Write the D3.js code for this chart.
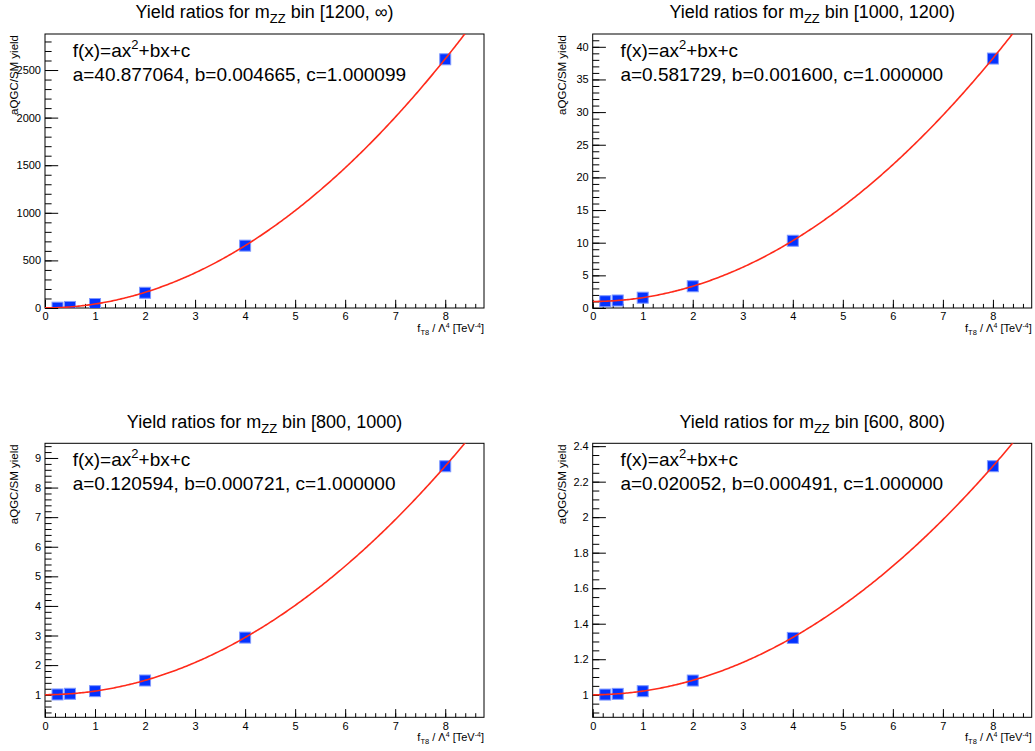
<!DOCTYPE html>
<html>
<head>
<meta charset="utf-8">
<script src="https://cdn.jsdelivr.net/npm/d3@7"></script>
<style>
  html, body { margin: 0; padding: 0; background: #fff; }
  svg { display: block; }
  text { font-family: "Liberation Sans", Arial, Helvetica, sans-serif; fill: #000; }
</style>
</head>
<body>
<svg id="chart" width="1035" height="751"></svg>
<script>
// ---------------- data ----------------
const binLabels = ["[1200, \u221e)", "[1000, 1200)", "[800, 1000)", "[600, 800)"];
const xValues = [0.25, 0.5, 1, 2, 4, 8];
const yields1200 = [3.6, 11.2, 41.9, 160, 655, 2613];
const yields1000 = [1.04, 1.15, 1.58, 3.33, 10.3, 38.2];
const yields800  = [1.008, 1.031, 1.12, 1.48, 2.93, 8.72];
const yields600  = [1.001, 1.005, 1.02, 1.08, 1.32, 2.287];
const fitA = [40.877064, 0.581729, 0.120594, 0.020052];
const fitB = [0.004665, 0.001600, 0.000721, 0.000491];
const fitC = [1.000099, 1.000000, 1.000000, 1.000000];
const fitAText = ["40.877064", "0.581729", "0.120594", "0.020052"];
const fitBText = ["0.004665", "0.001600", "0.000721", "0.000491"];
const fitCText = ["1.000099", "1.000000", "1.000000", "1.000000"];
const xDomain = [0, 8.775];
const yDomainMin = [0, 0, 0.236, 0.873];
const yDomainMax = [2878.5, 41.96, 9.496, 2.416];
const yMajorStep = [500, 5, 1, 0.2];
const yMinorStep = [100, 1, 0.2, 0.05];
const xMajorStep = 1, xMinorStep = 0.2;
const allYields = [yields1200, yields1000, yields800, yields600];

// ---------------- layout ----------------
const colLeft = [45, 592.7];
const rowTop = [34, 443.3];
const fw = 439, fh = 274;
const svg = d3.select("#chart");
const fmt = d3.format("~g");

function stepValues(min, max, step) {
  const out = [];
  const k0 = Math.ceil(min / step - 1e-9), k1 = Math.floor(max / step + 1e-9);
  for (let k = k0; k <= k1; k++) out.push(+(k * step).toFixed(6));
  return out;
}

for (let p = 0; p < 4; p++) {
  const left = colLeft[p % 2], top = rowTop[Math.floor(p / 2)];
  const g = svg.append("g").attr("transform", `translate(${left},${top})`);
  const x = d3.scaleLinear().domain(xDomain).range([0, fw]);
  const y = d3.scaleLinear().domain([yDomainMin[p], yDomainMax[p]]).range([fh, 0]);

  g.append("clipPath").attr("id", "clip" + p)
    .append("rect").attr("width", fw).attr("height", fh);

  const xMinor = g.append("g").attr("transform", `translate(0,${fh})`)
    .call(d3.axisBottom(x).tickValues(stepValues(xDomain[0], xDomain[1], xMinorStep))
      .tickSize(-4.1).tickFormat(""));
  const xMajor = g.append("g").attr("transform", `translate(0,${fh})`)
    .call(d3.axisBottom(x).tickValues(stepValues(xDomain[0], xDomain[1], xMajorStep))
      .tickSize(-8.2).tickPadding(4.6).tickFormat(fmt));
  const yMinor = g.append("g")
    .call(d3.axisLeft(y).tickValues(stepValues(yDomainMin[p], yDomainMax[p], yMinorStep[p]))
      .tickSize(-6.6).tickFormat(""));
  const yMajor = g.append("g")
    .call(d3.axisLeft(y).tickValues(stepValues(yDomainMin[p], yDomainMax[p], yMajorStep[p]))
      .tickSize(-13.2).tickPadding(4).tickFormat(fmt));
  [xMinor, xMajor, yMinor, yMajor].forEach(a => {
    a.select(".domain").remove();
    a.selectAll("line").attr("stroke", "#000").attr("stroke-width", 1);
    a.selectAll("text").attr("font-size", 11)
      .attr("font-family", '"Liberation Sans", Arial, Helvetica, sans-serif').attr("fill", "#000");
  });

  g.append("rect").attr("width", fw).attr("height", fh)
    .attr("fill", "none").attr("stroke", "#000").attr("stroke-width", 1);

  const pts = xValues.map((xv, i) => [xv, allYields[p][i]]);
  g.append("g").attr("clip-path", `url(#clip${p})`)
    .selectAll("rect.m").data(pts).enter().append("rect")
    .attr("x", d => x(d[0]) - 5.5).attr("y", d => y(d[1]) - 5.5)
    .attr("width", 11).attr("height", 11)
    .attr("fill", "#0433ff").attr("stroke", "#7f98ff").attr("stroke-width", 1);

  const n = 300;
  const curve = d3.range(n + 1).map(i => {
    const xv = xDomain[0] + (xDomain[1] - xDomain[0]) * i / n;
    return [xv, fitA[p] * xv * xv + fitB[p] * xv + fitC[p]];
  });
  g.append("path").datum(curve).attr("clip-path", `url(#clip${p})`)
    .attr("d", d3.line().x(d => x(d[0])).y(d => y(d[1])))
    .attr("fill", "none").attr("stroke", "#ff2a1a").attr("stroke-width", 1.6);

  const t1 = g.append("text").attr("x", 27.7).attr("y", 22.7).attr("font-size", 19);
  t1.append("tspan").text("f(x)=ax");
  t1.append("tspan").attr("font-size", 13).attr("dy", -8).text("2");
  t1.append("tspan").attr("dy", 8).text("+bx+c");
  g.append("text").attr("x", 27.7).attr("y", 47).attr("font-size", 19)
    .text(`a=${fitAText[p]}, b=${fitBText[p]}, c=${fitCText[p]}`);

  const tt = g.append("text").attr("x", fw / 2).attr("y", -15.7)
    .attr("text-anchor", "middle").attr("font-size", 18);
  tt.append("tspan").text("Yield ratios for m");
  tt.append("tspan").attr("font-size", 13).attr("dy", 5).text("ZZ");
  tt.append("tspan").attr("dy", -5).text(" bin " + binLabels[p]);

  g.append("text").attr("transform", `translate(-27,1) rotate(-90)`)
    .attr("text-anchor", "end").attr("font-size", 11.5).text("aQGC/SM yield");

  const xl = g.append("text").attr("x", fw).attr("y", fh + 24.2)
    .attr("text-anchor", "end").attr("font-size", 11);
  xl.append("tspan").text("f");
  xl.append("tspan").attr("font-size", 7.5).attr("dy", 2.5).text("T8");
  xl.append("tspan").attr("dy", -2.5).text(" / \u039b");
  xl.append("tspan").attr("font-size", 7).attr("dy", -4.5).text("4");
  xl.append("tspan").attr("dy", 4.5).text(" [TeV");
  xl.append("tspan").attr("font-size", 7).attr("dy", -4.5).text("-4");
  xl.append("tspan").attr("dy", 4.5).text("]");
}
</script>
</body>
</html>
